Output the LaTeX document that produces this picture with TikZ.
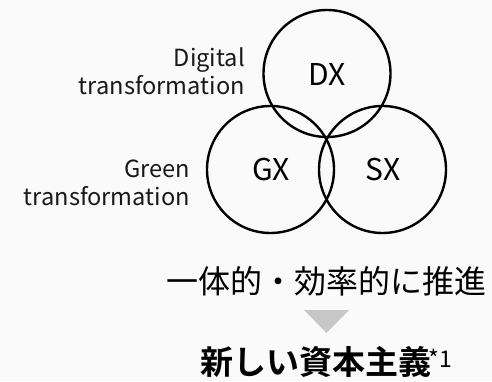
\documentclass[tikz,border=0pt]{standalone}
\usepackage{fontspec}
\setmainfont{Noto Sans CJK JP}[BoldFont={Noto Sans CJK JP Bold}]
\begin{document}
\begin{tikzpicture}[x=1pt,y=1pt,
  venn/.style={draw=black,line width=2.4pt},
  lbl/.style={font=\fontsize{23.6}{28}\selectfont,align=right,anchor=east,inner sep=0pt,text=black!90},
  circtxt/.style={font=\fontsize{30}{30}\selectfont,inner sep=0pt}]
\fill[black!2] (0,0) rectangle (492,381);
\useasboundingbox (0,0) rectangle (492,381);
\draw[venn] (327,307.5) circle (63.5);
\draw[venn] (270.5,211.5) circle (63.5);
\draw[venn] (382.5,211.5) circle (63.5);
\node[circtxt] (dx) at (327,306) {DX};
\node[circtxt] (gx) at (271,211) {GX};
\node[circtxt] (sx) at (383,211) {SX};
\node[lbl] (dlbl) at (245,310) {Digital\\transformation};
\node[lbl] (glbl) at (190,198) {Green\\transformation};
\node[font=\fontsize{32}{32}\selectfont,inner sep=0pt] (jp) at (326,100) {一体的・効率的に推進};
\fill[black!22] (304,71) -- (349,71) -- (326.5,48) -- cycle;
\node[font=\fontsize{33}{33}\selectfont\bfseries,inner sep=0pt,anchor=base west] (ns) at (200.5,6.5) {新しい資本主義\kern-3pt\raisebox{7.5pt}{\fontsize{23}{23}\selectfont\mdseries *1}};
\end{tikzpicture}
\end{document}
